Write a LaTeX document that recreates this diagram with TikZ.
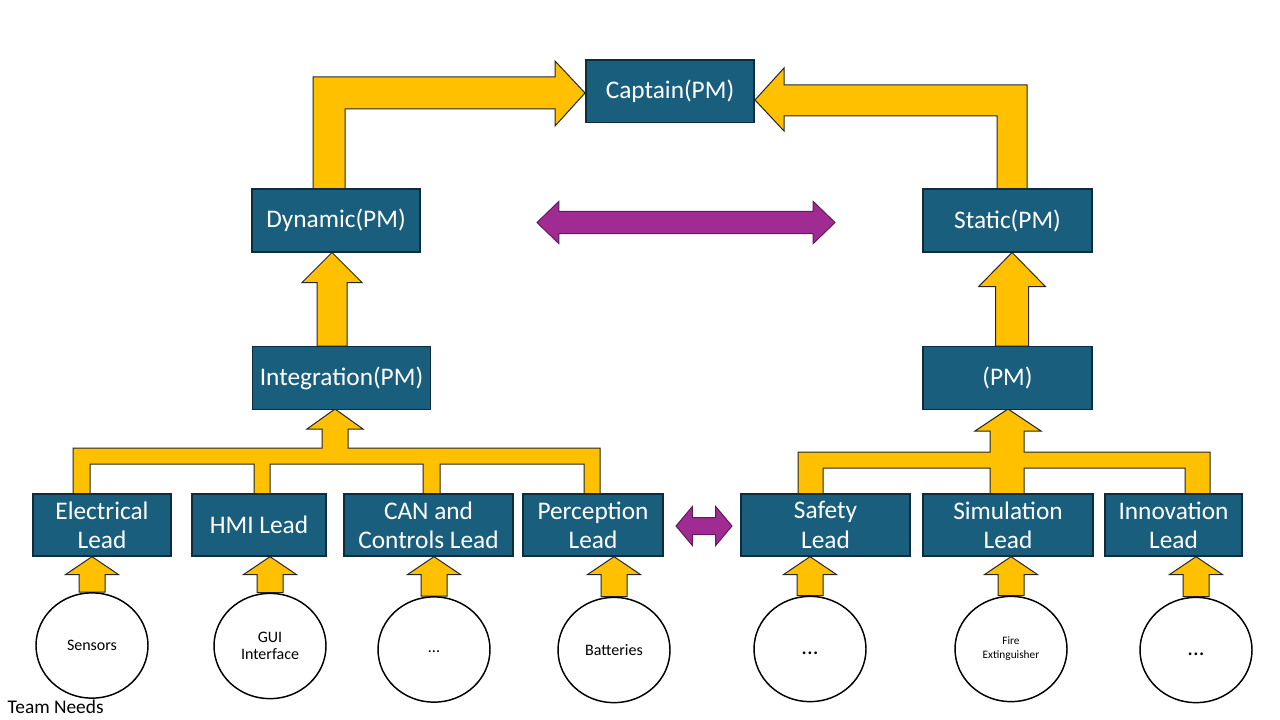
\documentclass[tikz,border=0pt]{standalone}
\usepackage{fontspec}
\setmainfont{Carlito}
\usepackage{xcolor}
\usetikzlibrary{calc, shapes.geometric, shapes.arrows, backgrounds}

\definecolor{boxblue}{RGB}{26,94,126}
\definecolor{boxline}{RGB}{14,44,60}
\definecolor{gold}{RGB}{255,192,0}
\definecolor{plum}{RGB}{160,43,147}
\definecolor{plumline}{RGB}{100,26,92}

% block arrow pointing up: from, to, half shaft, half head, head length
\newcommand{\blockup}[5]{%
  \draw[feed] let \p1=(#1), \p2=(#2) in
    (\x1-#3,\y1) -- (\x1-#3,\y2-#5) -- (\x1-#4,\y2-#5) -- (\x1,\y2)
    -- (\x1+#4,\y2-#5) -- (\x1+#3,\y2-#5) -- (\x1+#3,\y1) -- cycle;}

\begin{document}
\begin{tikzpicture}[x=0.75pt, y=-0.75pt,
    role/.style={draw=boxline, line width=1pt, fill=boxblue, text=white, align=center,
                 font=\fontsize{19}{22}\selectfont, inner sep=0pt, minimum height=47pt},
    need/.style={ellipse, draw, line width=1.1pt, fill=white, inner sep=0pt, align=center,
                 minimum width=84pt, minimum height=79pt, font=\fontsize{12}{13}\selectfont},
    feed/.style={draw=black!85, line width=0.75pt, fill=gold},
    link/.style={double arrow, draw=plumline, line width=0.75pt, fill=plum,
                 inner xsep=0pt}]
    \useasboundingbox (0,0) rectangle (1280,720);

    % project managers
    \node[role, minimum width=126pt]    (cap)   at (670,91.5)   {Captain(PM)};
    \node[role, minimum width=126pt]    (dyn)   at (336,220.5)  {Dynamic(PM)};
    \node[role, minimum width=126.75pt] (sta)   at (1007.5,220.5) {Static(PM)};
    \node[role, minimum width=133.5pt]  (integ) at (341.5,378)  {Integration(PM)};
    \node[role, minimum width=126.75pt] (pm)    at (1007.5,378) {(PM)};

    % leads
    \node[role, minimum width=103.5pt, minimum height=46.5pt]  (ele) at (102,525)    {Electrical\\Lead};
    \node[role, minimum width=100.5pt, minimum height=46.5pt]  (hmi) at (259,525)    {HMI Lead};
    \node[role, minimum width=126.75pt, minimum height=46.5pt] (can) at (428.5,525)  {CAN and\\Controls Lead};
    \node[role, minimum width=105pt, minimum height=46.5pt]    (per) at (593,525)    {Perception\\Lead};
    \node[role, minimum width=126.75pt, minimum height=46.5pt] (saf) at (825.5,525)  {Safety\\Lead};
    \node[role, minimum width=127.5pt, minimum height=46.5pt]  (sim) at (1008,525)   {Simulation\\Lead};
    \node[role, minimum width=102.75pt, minimum height=46.5pt] (inn) at (1173.5,525) {Innovation\\Lead};

    % team needs
    \node[need] (sens)  at (92,645.5) {Sensors};
    \node[need] (gui)   at (270,646)  {GUI\\Interface};
    \node[need] (dotsa) at (434,649.5) {\strut...};
    \node[need] (bat)   at (614,650)  {Batteries};
    \node[need, font=\fontsize{17}{19}\selectfont] (dotsb) at (810,649) {\strut...};
    \node[need, font=\fontsize{8.5}{10.5}\selectfont] (fire) at (1011,649) {Fire\\Extinguisher};
    \node[need, font=\fontsize{17}{19}\selectfont] (dotsc) at (1196,650) {\strut...};
    \node[anchor=west, font=\fontsize{14.5}{16}\selectfont] (label) at (3,707) {Team Needs};

    % purple links
    \node[link, minimum height=223.5pt, inner ysep=7.9pt, double arrow head extend=7.5pt,
          double arrow tip angle=88] (swap) at (686,222.5) {};
    \node[link, minimum height=42pt, inner ysep=6pt, double arrow head extend=8.25pt,
          double arrow tip angle=100] (share) at (704,526) {};

    \begin{scope}[on background layer]
        \blockup{sens.north}{ele.south}{9.75pt}{20pt}{13.5pt}
        \blockup{gui.north}{hmi.south}{9.75pt}{20pt}{13.5pt}
        \blockup{dotsa.north}{can.south}{9.75pt}{20pt}{13.5pt}
        \blockup{bat.north}{per.south}{9.75pt}{20pt}{13.5pt}
        \blockup{dotsb.north}{saf.south}{9.75pt}{20pt}{13.5pt}
        \blockup{fire.north}{sim.south}{9.75pt}{20pt}{13.5pt}
        \blockup{dotsc.north}{inn.south}{9.75pt}{20pt}{13.5pt}
        \blockup{[xshift=-7.1pt]integ.north}{dyn.south}{11.25pt}{22.5pt}{22.5pt}
        \blockup{[xshift=3.4pt]pm.north}{sta.south}{12.4pt}{25pt}{25.5pt}

        % tree under Integration(PM)
        \draw[feed] (73,494) -- (73,448) -- (322,448) -- (322,429) -- (307,429) -- (335,409)
            -- (363,429) -- (348,429) -- (348,448) -- (600,448) -- (600,494) -- (584,494)
            -- (584,464) -- (440,464) -- (440,494) -- (423,494) -- (423,464) -- (270,464)
            -- (270,494) -- (254,494) -- (254,464) -- (90,464) -- (90,494) -- cycle;
        % tree under (PM)
        \draw[feed] (798,494) -- (798,452) -- (990,452) -- (990,431) -- (975,431) -- (1008,409)
            -- (1041,431) -- (1024,431) -- (1024,452) -- (1210,452) -- (1210,494) -- (1185,494)
            -- (1185,468) -- (1024,468) -- (1024,494) -- (990,494) -- (990,468) -- (823,468)
            -- (823,494) -- cycle;

        % up to the captain
        \draw[feed] (313,189) -- (313,77) -- (555,77) -- (555,61) -- (585,93) -- (555,126)
            -- (555,109) -- (345,109) -- (345,189) -- cycle;
        \draw[feed] (1027,189) -- (1027,85) -- (784,85) -- (784,68) -- (755,100) -- (784,131)
            -- (784,116) -- (997,116) -- (997,189) -- cycle;
    \end{scope}
\end{tikzpicture}
\end{document}
